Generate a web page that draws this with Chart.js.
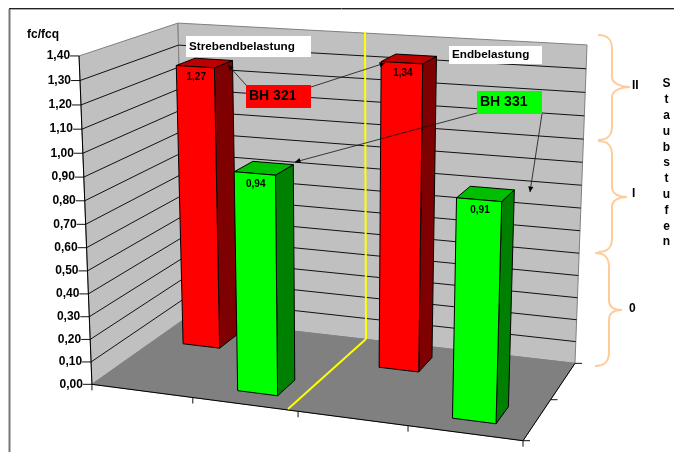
<!DOCTYPE html>
<html>
<head>
<meta charset="utf-8">
<title>fc/fcq</title>
<script src="https://cdn.jsdelivr.net/npm/chart.js@4"></script>
<style>
    html, body { margin: 0; padding: 0; background: #fff; }
    canvas { display: block; }
</style>
</head>
<body>
<canvas id="chart" width="674" height="452"></canvas>
<script>
// Values
const categories = ['Strebe BH 321', 'Strebe BH 331', 'Ende BH 321', 'Ende BH 331'];
const bh321 = [1.27, null, 1.34, null];
const bh331 = [null, 0.94, null, 0.91];
const axisMax = 1.4;
const axisStep = 0.1;

// Box corners on screen as [u, v, t, x, y]
// u = along categories, v = depth, t = height (0..1)
const boxCorners = [
    [0, 0, 0, 92, 384],
    [1, 0, 0, 523, 441],
    [0, 1, 0, 185, 319],
    [1, 1, 0, 575, 363],
    [0, 0, 1, 79, 56],
    [0, 1, 1, 178, 23],
    [1, 1, 1, 587, 45]
];

const FONT = '"Liberation Sans", Arial, sans-serif';
const barDepth = 0.21;

// Least squares fit of the projective camera through the box corners
function fitCamera(points) {
    const n = 11;
    const ata = Array.from({ length: n }, () => new Array(n + 1).fill(0));
    const addRow = (row, rhs) => {
        for (let i = 0; i < n; i++) {
            for (let j = 0; j < n; j++) ata[i][j] += row[i] * row[j];
            ata[i][n] += row[i] * rhs;
        }
    };
    points.forEach(([u, v, t, x, y]) => {
        addRow([u, v, t, 1, 0, 0, 0, 0, -x * u, -x * v, -x * t], x);
        addRow([0, 0, 0, 0, u, v, t, 1, -y * u, -y * v, -y * t], y);
    });
    for (let c = 0; c < n; c++) {
        let pivot = c;
        for (let r = c + 1; r < n; r++) {
            if (Math.abs(ata[r][c]) > Math.abs(ata[pivot][c])) pivot = r;
        }
        [ata[c], ata[pivot]] = [ata[pivot], ata[c]];
        for (let r = 0; r < n; r++) {
            if (r === c) continue;
            const f = ata[r][c] / ata[c][c];
            for (let k = c; k <= n; k++) ata[r][k] -= f * ata[c][k];
        }
    }
    return ata.map((row, i) => row[n] / row[i]);
}

const cam = fitCamera(boxCorners);

function project(u, v, t) {
    const w = cam[8] * u + cam[9] * v + cam[10] * t + 1;
    return [
        (cam[0] * u + cam[1] * v + cam[2] * t + cam[3]) / w,
        (cam[4] * u + cam[5] * v + cam[6] * t + cam[7]) / w
    ];
}

function polygon(ctx, pts, fill, stroke, lineWidth) {
    ctx.beginPath();
    pts.forEach((p, i) => i ? ctx.lineTo(p[0], p[1]) : ctx.moveTo(p[0], p[1]));
    ctx.closePath();
    if (fill) {
        ctx.fillStyle = fill;
        ctx.fill();
    }
    if (stroke) {
        ctx.strokeStyle = stroke;
        ctx.lineWidth = lineWidth || 1;
        ctx.stroke();
    }
}

function line(ctx, a, b, color, width) {
    ctx.beginPath();
    ctx.moveTo(a[0], a[1]);
    ctx.lineTo(b[0], b[1]);
    ctx.strokeStyle = color;
    ctx.lineWidth = width || 1;
    ctx.stroke();
}

function label(ctx, text, x, y, font, align) {
    ctx.font = font;
    ctx.fillStyle = '#000';
    ctx.textAlign = align || 'left';
    ctx.textBaseline = 'middle';
    ctx.fillText(text, x, y);
}

function formatValue(v) {
    return v.toFixed(2).replace('.', ',');
}

// Plot area in use, set by the controller before bars draw
let plotArea = null;

function toU(x) {
    return (x - plotArea.left) / plotArea.width;
}

function toT(y) {
    return (plotArea.bottom - y) / plotArea.height;
}

// Bar with a front, right side and top face
class Bar3DElement extends Chart.BarElement {
    draw(ctx) {
        const { x, y, base, width } = this;
        if (isNaN(y)) return;
        const o = this.options;
        const u0 = toU(x - width / 2);
        const u1 = toU(x + width / 2);
        const t0 = toT(base);
        const t1 = toT(y);
        const v0 = (o.depthRow + 0.5) / 2 - barDepth / 2;
        const v1 = v0 + barDepth;
        polygon(ctx, [project(u1, v0, t0), project(u1, v1, t0), project(u1, v1, t1), project(u1, v0, t1)], o.sideColor, '#000');
        polygon(ctx, [project(u0, v0, t1), project(u1, v0, t1), project(u1, v1, t1), project(u0, v1, t1)], o.topColor, '#000');
        polygon(ctx, [project(u0, v0, t0), project(u1, v0, t0), project(u1, v0, t1), project(u0, v0, t1)], o.backgroundColor, '#000');
    }
}
Bar3DElement.id = 'bar3d';
Bar3DElement.defaults = Object.assign({}, Chart.BarElement.defaults, { depthRow: 0, topColor: '#000', sideColor: '#000' });

class Bar3DController extends Chart.BarController {
    draw() {
        plotArea = this.chart.chartArea;
        super.draw();
    }
}
Bar3DController.id = 'bar3d';
Bar3DController.defaults = Object.assign({}, Chart.BarController.defaults, { dataElementType: 'bar3d' });
Bar3DController.overrides = Chart.BarController.overrides;

Chart.register(Bar3DElement, Bar3DController);

// Walls, floor, grid and axes behind the bars
const boxPlugin = {
    id: 'box',
    beforeDatasetsDraw(chart) {
        const ctx = chart.ctx;
        const yScale = chart.scales.y;
        plotArea = chart.chartArea;

        // outer frame
        line(ctx, [9, 8.5], [674, 8.5], '#222');
        line(ctx, [9, 9.5], [674, 9.5], '#aaa');
        line(ctx, [9.5, 9], [9.5, 452], '#777', 2);

        polygon(ctx, [project(0, 0, 0), project(0, 1, 0), project(0, 1, 1), project(0, 0, 1)], '#c0c0c0', '#808080');
        polygon(ctx, [project(0, 1, 0), project(1, 1, 0), project(1, 1, 1), project(0, 1, 1)], '#c0c0c0', '#808080');
        polygon(ctx, [project(0, 0, 0), project(1, 0, 0), project(1, 1, 0), project(0, 1, 0)], '#808080', '#808080');

        // value grid and tick labels
        yScale.ticks.forEach(tick => {
            const t = toT(yScale.getPixelForValue(tick.value));
            const a = project(0, 0, t);
            const b = project(0, 1, t);
            const c = project(1, 1, t);
            if (tick.value > 0 && tick.value < axisMax - 0.01) {
                line(ctx, a, b, '#111');
                line(ctx, b, c, '#111');
            }
            line(ctx, [a[0] - 9, a[1]], a, '#111');
            label(ctx, formatValue(tick.value), a[0] - 9, a[1], 'bold 12px ' + FONT, 'right');
        });

        // axis lines
        line(ctx, project(0, 0, 0), project(0, 0, 1), '#000');
        line(ctx, project(0, 0, 0), project(1, 0, 0), '#000');
        line(ctx, project(1, 0, 0), project(1, 1, 0), '#000');

        // category ticks
        const xScale = chart.scales.x;
        categories.concat('').forEach((c, i) => {
            const p = project(toU(xScale.getPixelForValue(i - 0.5)), 0, 0);
            line(ctx, p, [p[0], p[1] + 6], '#111');
        });
        // depth ticks
        [0, 0.5, 1].forEach(v => {
            const p = project(1, v, 0);
            line(ctx, p, [p[0] + 7, p[1]], '#111');
        });

        label(ctx, 'fc/fcq', 27, 35, 'bold 12px ' + FONT);
    }
};

function arrow(ctx, from, to) {
    line(ctx, from, to, '#111', 0.8);
    const ang = Math.atan2(to[1] - from[1], to[0] - from[0]);
    const s = 6;
    polygon(ctx, [
        to,
        [to[0] - s * Math.cos(ang - 0.45), to[1] - s * Math.sin(ang - 0.45)],
        [to[0] - s * Math.cos(ang + 0.45), to[1] - s * Math.sin(ang + 0.45)]
    ], '#000');
}

function brace(ctx, x, top, bottom, tipX, tipY) {
    const r = 14;
    ctx.beginPath();
    ctx.moveTo(x, top);
    ctx.bezierCurveTo(x + r * 0.7, top, x + r, top + 4, x + r, top + r);
    ctx.lineTo(x + r, tipY - 10);
    ctx.bezierCurveTo(x + r, tipY - 3, tipX - 8, tipY, tipX, tipY);
    ctx.bezierCurveTo(tipX - 8, tipY, x + r, tipY + 3, x + r, tipY + 10);
    ctx.lineTo(x + r, bottom - r);
    ctx.bezierCurveTo(x + r, bottom - 4, x + r * 0.7, bottom, x, bottom);
    ctx.strokeStyle = '#ffcc99';
    ctx.lineWidth = 2;
    ctx.stroke();
}

function textBox(ctx, x, y, w, h, fill, text, font) {
    ctx.fillStyle = fill;
    ctx.fillRect(x, y, w, h);
    label(ctx, text, x + 3, y + h / 2, font);
}

// Value labels, yellow divider and the annotations on top of the bars
const notesPlugin = {
    id: 'notes',
    afterDatasetsDraw(chart) {
        const ctx = chart.ctx;
        chart.data.datasets.forEach((ds, i) => {
            const meta = chart.getDatasetMeta(i);
            meta.data.forEach((bar, j) => {
                const value = ds.data[j];
                if (value === null) return;
                const v0 = (ds.depthRow + 0.5) / 2 - barDepth / 2;
                const p = project(toU(bar.x), v0, toT(bar.y));
                label(ctx, formatValue(value), p[0] + 1, p[1] + 11, 'bold 10px ' + FONT, 'center');
            });
        });

        // divider between the two load cases
        line(ctx, [288, 409], [366, 339], '#ffff00', 2);
        line(ctx, [366, 339], [365, 32], '#ffff00', 2);

        arrow(ctx, [246, 85], [228, 65]);
        arrow(ctx, [311, 87], [385, 63]);
        arrow(ctx, [477, 113], [295, 162]);
        arrow(ctx, [542, 114], [530, 192]);

        textBox(ctx, 186, 36, 125, 21, '#fff', 'Strebendbelastung', 'bold 11.7px ' + FONT);
        textBox(ctx, 449, 46, 93, 18, '#fff', 'Endbelastung', 'bold 11.7px ' + FONT);
        textBox(ctx, 246, 85, 65, 23, '#ff0000', 'BH 321', 'bold 14px ' + FONT);
        textBox(ctx, 477, 91, 65, 23, '#00ff00', 'BH 331', 'bold 14px ' + FONT);

        brace(ctx, 598, 35, 140, 630, 87);
        brace(ctx, 598, 141, 252, 627, 197);
        brace(ctx, 595, 253, 366, 622, 310);
        label(ctx, 'II', 632, 86, 'bold 12px ' + FONT);
        label(ctx, 'I', 632, 194, 'bold 12px ' + FONT);
        label(ctx, '0', 629, 309, 'bold 12px ' + FONT);

        'Staubstufen'.split('').forEach((ch, i) => {
            label(ctx, ch, 666.5, 84 + i * 15.8, 'bold 12px ' + FONT, 'center');
        });
    }
};

new Chart(document.getElementById('chart'), {
    type: 'bar3d',
    data: {
        labels: categories,
        datasets: [
            {
                label: 'BH 331',
                data: bh331,
                depthRow: 0,
                backgroundColor: '#00ff00',
                topColor: '#00bf00',
                sideColor: '#008000',
                grouped: false,
                barPercentage: 0.385,
                categoryPercentage: 1
            },
            {
                label: 'BH 321',
                data: bh321,
                depthRow: 1,
                backgroundColor: '#ff0000',
                topColor: '#bf0000',
                sideColor: '#7f0000',
                grouped: false,
                barPercentage: 0.385,
                categoryPercentage: 1
            }
        ]
    },
    options: {
        responsive: false,
        animation: false,
        layout: { padding: 0 },
        plugins: {
            legend: { display: false },
            tooltip: { enabled: false }
        },
        scales: {
            x: { type: 'category', display: false, offset: true },
            y: {
                type: 'linear',
                display: false,
                min: 0,
                max: axisMax,
                ticks: { stepSize: axisStep }
            }
        }
    },
    plugins: [boxPlugin, notesPlugin]
});
</script>
</body>
</html>
